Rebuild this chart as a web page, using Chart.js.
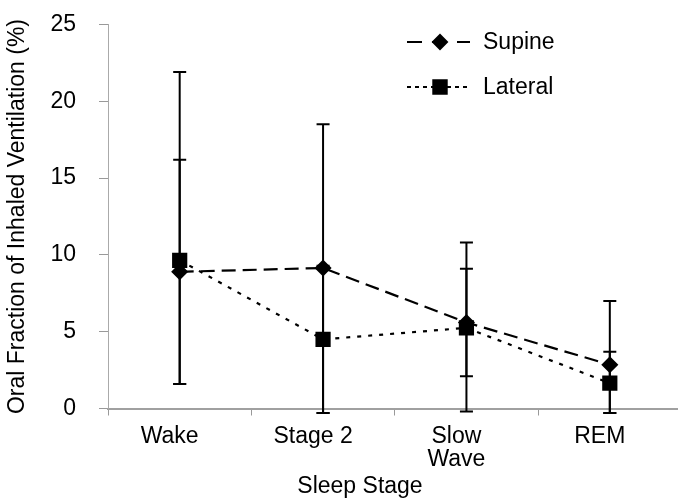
<!DOCTYPE html>
<html>
<head>
<meta charset="utf-8">
<script src="https://cdn.jsdelivr.net/npm/chart.js@4"></script>
<style>
  html, body { margin: 0; padding: 0; background: #fff; }
  #wrap { width: 678px; height: 498px; }
</style>
</head>
<body>
<div id="wrap"><canvas id="c" width="678" height="498"></canvas></div>
<script>
const categories = ['Wake', 'Stage 2', ['Slow', 'Wave'], 'REM'];
const seriesNames = ['Supine', 'Lateral'];
const supine = [8.9, 9.15, 5.6, 2.85];
const supineLow = [1.6, -0.3, 2.1, -0.3];
const supineHigh = [16.2, 18.5, 9.1, 7.0];
const lateral = [9.65, 4.5, 5.25, 1.65];
const lateralLow = [1.6, -0.3, -0.2, -0.3];
const lateralHigh = [21.9, 9.3, 10.8, 3.7];
const yTicks = [0, 5, 10, 15, 20, 25];
const xTitle = 'Sleep Stage';
const yTitle = 'Oral Fraction of Inhaled Ventilation (%)';

const FONT = '"Liberation Sans", Arial, sans-serif';

const extendRight = {
  id: 'extendRight',
  afterLayout(chart) {
    const extra = 3.5;
    const x = chart.scales.x;
    x.right += extra;
    x.width += extra;
    x.configure();
    chart.chartArea.right += extra;
    chart.chartArea.width += extra;
  }
};

const errorBars = {
  id: 'errorBars',
  beforeDatasetsDraw(chart) {
    const ctx = chart.ctx;
    const y = chart.scales.y;
    ctx.save();
    ctx.strokeStyle = '#000';
    ctx.lineWidth = 2;
    chart.data.datasets.forEach((ds, di) => {
      const meta = chart.getDatasetMeta(di);
      meta.data.forEach((pt, i) => {
        const x = pt.x;
        const yl = y.getPixelForValue(ds.errLow[i]);
        const yh = y.getPixelForValue(ds.errHigh[i]);
        ctx.beginPath();
        ctx.moveTo(x, yl); ctx.lineTo(x, yh);
        ctx.moveTo(x - 6.5, yl); ctx.lineTo(x + 6.5, yl);
        ctx.moveTo(x - 6.5, yh); ctx.lineTo(x + 6.5, yh);
        ctx.stroke();
      });
    });
    ctx.restore();
  }
};

const customLegend = {
  id: 'customLegend',
  afterDraw(chart) {
    const ctx = chart.ctx;
    ctx.save();
    const rows = [42, 87];
    chart.data.datasets.forEach((ds, di) => {
      const yy = rows[di];
      ctx.strokeStyle = '#000';
      ctx.lineWidth = 2;
      ctx.setLineDash(di === 0 ? [15, 10] : [4, 4]);
      ctx.beginPath();
      ctx.moveTo(407, yy); ctx.lineTo(470, yy);
      ctx.stroke();
      ctx.setLineDash([]);
      Chart.helpers.drawPoint(ctx, {pointStyle: ds.pointStyle, radius: di === 0 ? 7 : 9.5, borderWidth: 1, rotation: 0}, 440, yy);
      ctx.fillStyle = '#000';
      ctx.fill();
      ctx.font = '23px ' + FONT;
      ctx.textBaseline = 'middle';
      ctx.textAlign = 'left';
      ctx.fillText(ds.label, 483, yy + 1);
    });
    // x axis title (offset left of plot centre, as in the original)
    ctx.font = '23px ' + FONT;
    ctx.textAlign = 'center';
    ctx.textBaseline = 'middle';
    ctx.fillStyle = '#000';
    ctx.fillText(xTitle, 360, 487);
    ctx.restore();
  }
};

new Chart(document.getElementById('c'), {
  type: 'line',
  data: {
    labels: categories,
    datasets: [
      {
        label: seriesNames[0], data: supine, errLow: supineLow, errHigh: supineHigh,
        borderColor: '#000', backgroundColor: '#000', borderWidth: 2.2,
        borderDash: [14, 7], pointStyle: 'rectRot', pointRadius: 7,
        pointBackgroundColor: '#000', pointBorderColor: '#000', tension: 0, clip: false
      },
      {
        label: seriesNames[1], data: lateral, errLow: lateralLow, errHigh: lateralHigh,
        borderColor: '#000', backgroundColor: '#000', borderWidth: 2.2,
        borderDash: [4, 7], pointStyle: 'rect', pointRadius: 9.2,
        pointBackgroundColor: '#000', pointBorderColor: '#000', tension: 0, clip: false
      }
    ]
  },
  options: {
    responsive: false,
    animation: false,
    devicePixelRatio: 1,
    layout: { autoPadding: false, padding: { top: 24.5, right: 0, left: 0, bottom: 0 } },
    plugins: { legend: { display: false }, tooltip: { enabled: false } },
    scales: {
      x: {
        type: 'category',
        offset: true,
        grid: { display: true, offset: true, drawOnChartArea: false, tickLength: 7, color: '#999', lineWidth: 1 },
        border: { display: true, color: '#a0a0a0', width: 2 },
        ticks: { color: '#000', padding: 10, labelOffset: -10, maxRotation: 0, autoSkip: false, font: { family: FONT, size: 23, lineHeight: 1 } },
        title: { display: false },
        afterFit(scale) { scale.height = 89.5; scale.paddingLeft = 0; scale.paddingRight = 0; }
      },
      y: {
        min: 0, max: 25,
        afterBuildTicks(scale) { scale.ticks = yTicks.map(v => ({ value: v })); },
        grid: { display: true, drawOnChartArea: false, tickLength: 9, color: '#999', lineWidth: 1 },
        border: { display: true, color: '#aaa', width: 1, dash: [1, 2] },
        ticks: { color: '#000', padding: 23, font: { family: FONT, size: 23, lineHeight: 1 } },
        title: { display: true, text: yTitle, color: '#000', padding: { top: 6.5, bottom: 0 }, font: { family: FONT, size: 23, lineHeight: 1 } },
        afterFit(scale) { scale.width = 108; scale.paddingTop = 0; scale.paddingBottom = 0; }
      }
    }
  },
  plugins: [extendRight, errorBars, customLegend]
});
</script>
</body>
</html>
